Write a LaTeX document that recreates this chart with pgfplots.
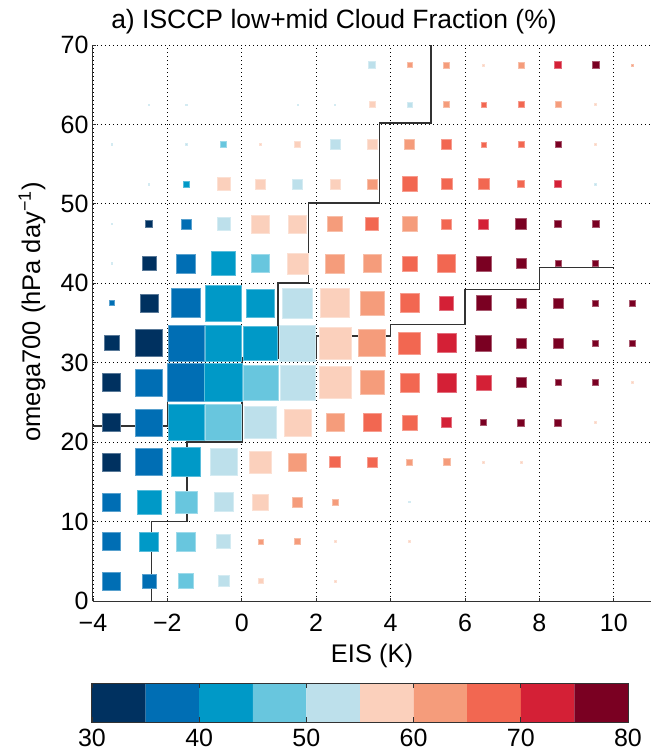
\documentclass[border=0pt]{standalone}
\usepackage{fontspec}
\setmainfont{Liberation Sans}
\usepackage{pgfplots}
\pgfplotsset{compat=1.18}
\definecolor{c1}{RGB}{0,49,96}
\definecolor{c2}{RGB}{0,110,180}
\definecolor{c3}{RGB}{0,153,199}
\definecolor{c4}{RGB}{104,198,222}
\definecolor{c5}{RGB}{189,224,235}
\definecolor{c6}{RGB}{251,208,188}
\definecolor{c7}{RGB}{245,156,123}
\definecolor{c8}{RGB}{242,103,81}
\definecolor{c9}{RGB}{212,32,54}
\definecolor{c10}{RGB}{122,0,34}
\definecolor{axgray}{RGB}{50,50,50}
\newcommand\fs{\fontsize{25}{29}\selectfont}
\begin{document}
\begin{tikzpicture}[x=1pt,y=1pt]
\useasboundingbox (-93,-154) rectangle (559,601);
\begin{axis}[
  at={(0,0)}, anchor=south west,
  scale only axis, width=558pt, height=556pt,
  xmin=-4, xmax=11, ymin=0, ymax=70,
  axis x line*=bottom, axis y line*=left,
  axis line style={axgray, line width=1pt, -},
  xtick={-4,-2,...,10}, xticklabels={−4,−2,0,2,4,6,8,10},
  ytick={0,10,...,70},
  tick align=inside, major tick length=3pt,
  tick style={axgray, line width=0.8pt},
  grid=major,
  major grid style={black, dash pattern=on 1.4pt off 2.6pt, line width=0.8pt},
  ticklabel style={font=\fs},
  xticklabel style={yshift=-10pt},
  yticklabel style={xshift=-1pt},
  /pgf/number format/assume math mode=true,
  colormap={rdbu}{rgb255=(0,49,96) rgb255=(0,110,180) rgb255=(0,153,199) rgb255=(104,198,222) rgb255=(189,224,235) rgb255=(251,208,188) rgb255=(245,156,123) rgb255=(242,103,81) rgb255=(212,32,54) rgb255=(122,0,34)},
  colormap access=piecewise constant,
  point meta min=0, point meta max=10,
  clip=false,
]
\addplot[scatter, only marks, mark=square*, mark options={line width=0.4pt},
  scatter/use mapped color={draw=mapped color!65!white, fill=mapped color},
  point meta={\thisrow{c}-0.5},
  visualization depends on={0.5*\thisrow{s} \as \ms},
  scatter/@pre marker code/.append style={/tikz/mark size=\ms}]
  table {
x y s c
3.5 67.5 7 5
4.5 67.5 5 7
5.5 67.5 6 7
6.5 67.5 2 6
7.5 67.5 6 7
8.5 67.5 7 9
9.5 67.5 7 10
10.5 67.5 2 7
-2.5 62.5 1.5 5
-1.5 62.5 1.5 5
1.5 62.5 1.5 5
2.5 62.5 1.5 5
3.5 62.5 6 6
4.5 62.5 5 5
5.5 62.5 6 7
6.5 62.5 5 8
7.5 62.5 6 8
8.5 62.5 6 7
9.5 62.5 2 6
-3.5 57.5 1.5 5
-1.5 57.5 1.5 5
-0.5 57.5 6 4
0.5 57.5 1.5 6
1.5 57.5 6 6
2.5 57.5 10 5
3.5 57.5 10 6
4.5 57.5 10 7
5.5 57.5 10 8
6.5 57.5 5 8
7.5 57.5 6 8
8.5 57.5 6 10
9.5 57.5 2 6
-2.5 52.5 1.5 5
-1.5 52.5 6 3
-0.5 52.5 13 6
0.5 52.5 10 6
1.5 52.5 10 5
2.5 52.5 10 6
3.5 52.5 10 7
4.5 52.5 15 8
5.5 52.5 11 8
6.5 52.5 11 8
7.5 52.5 7 8
8.5 52.5 7 9
9.5 52.5 1.5 5
-3.5 47.5 1.5 5
-2.5 47.5 7 1
-1.5 47.5 10 2
-0.5 47.5 13 5
0.5 47.5 18 6
1.5 47.5 18 6
2.5 47.5 15 7
3.5 47.5 13 8
4.5 47.5 15 7
5.5 47.5 10 8
6.5 47.5 10 9
7.5 47.5 11 10
8.5 47.5 7 10
9.5 47.5 7 10
-3.5 42.5 1.5 5
-2.5 42.5 14 1
-1.5 42.5 19 2
-0.5 42.5 24 3
0.5 42.5 18 4
1.5 42.5 21 6
2.5 42.5 19 7
3.5 42.5 18 7
4.5 42.5 15 8
5.5 42.5 18 8
6.5 42.5 15 10
7.5 42.5 10 10
8.5 42.5 6 10
9.5 42.5 6 10
-3.5 37.5 5 2
-2.5 37.5 18 1
-1.5 37.5 29 2
-0.5 37.5 36 3
0.5 37.5 28 3
1.5 37.5 30 5
2.5 37.5 29 6
3.5 37.5 24 7
4.5 37.5 19 8
5.5 37.5 14 9
6.5 37.5 15 10
7.5 37.5 10 10
8.5 37.5 10 10
9.5 37.5 6 10
10.5 37.5 6 10
-3.5 32.5 15 1
-2.5 32.5 27 1
-1.5 32.5 36 2
-0.5 32.5 36 3
0.5 32.5 34 3
1.5 32.5 36 5
2.5 32.5 32 6
3.5 32.5 27 7
4.5 32.5 22 8
5.5 32.5 19 9
6.5 32.5 16 10
7.5 32.5 10 10
8.5 32.5 10 10
9.5 32.5 6 10
10.5 32.5 6 10
-3.5 27.5 18 1
-2.5 27.5 27 2
-1.5 27.5 38 2
-0.5 27.5 38 3
0.5 27.5 35 4
1.5 27.5 35 5
2.5 27.5 32 6
3.5 27.5 24 7
4.5 27.5 19 8
5.5 27.5 19 9
6.5 27.5 15 9
7.5 27.5 10 10
8.5 27.5 6 10
9.5 27.5 6 10
10.5 27.5 2 6
-3.5 22.5 18 1
-2.5 22.5 27 2
-1.5 22.5 36 3
-0.5 22.5 36 4
0.5 22.5 32 5
1.5 22.5 27 6
2.5 22.5 18 7
3.5 22.5 18 8
4.5 22.5 15 8
5.5 22.5 10 9
6.5 22.5 6 10
7.5 22.5 7 10
8.5 22.5 7 10
9.5 22.5 2 6
-3.5 17.5 18 1
-2.5 17.5 27 2
-1.5 17.5 29 3
-0.5 17.5 27 5
0.5 17.5 22 6
1.5 17.5 18 7
2.5 17.5 11 8
3.5 17.5 10 8
4.5 17.5 6 7
5.5 17.5 7 7
6.5 17.5 2 6
7.5 17.5 2 6
-3.5 12.5 18 2
-2.5 12.5 24 3
-1.5 12.5 22 4
-0.5 12.5 19 5
0.5 12.5 16 6
1.5 12.5 10 7
2.5 12.5 6 7
4.5 12.5 1.5 5
-3.5 7.5 18 2
-2.5 7.5 19 3
-1.5 7.5 19 4
-0.5 7.5 14 5
0.5 7.5 5 7
1.5 7.5 6 7
2.5 7.5 2 6
4.5 7.5 2 6
-3.5 2.5 18 2
-2.5 2.5 14 2
-1.5 2.5 15 4
-0.5 2.5 11 5
0.5 2.5 5 6
2.5 2.5 2 6
};
\addplot[axgray, line width=1.6pt, mark=none] coordinates {
(-2.43,0) (-2.43,10) (-1.47,10) (-1.47,20) (0,20) (0,30.6) (0.97,30.6) (0.97,40)
(1.79,40) (1.79,50.1) (3.70,50.1) (3.70,60.2) (5.09,60.2) (5.09,70)};
\addplot[axgray, line width=1.6pt, mark=none] coordinates {
(-4,22) (-2,22) (-2,27.6) (0,27.6) (0,30.6) (2,30.6) (2,33.4) (4,33.4) (4,34.8)
(6,34.8) (6,39.2) (8,39.2) (8,42.0) (10,42.0)};
\end{axis}
\begin{axis}[
  at={(-1pt,-121pt)}, anchor=south west,
  scale only axis, width=536pt, height=39pt,
  xmin=30, xmax=80, ymin=0, ymax=1,
  ytick=\empty, xtick={30,40,...,80},
  xtick pos=both, tick align=inside, major tick length=5pt,
  tick style={axgray, line width=0.8pt},
  axis line style={axgray, line width=1pt},
  ticklabel style={font=\fs},
  xticklabel style={yshift=-4pt},
  /pgf/number format/assume math mode=true,
  axis on top,
]
\addplot[fill=c1, draw=none, mark=none] coordinates {(30,0) (35,0) (35,1) (30,1) (30,0)};
\addplot[fill=c2, draw=none, mark=none] coordinates {(35,0) (40,0) (40,1) (35,1) (35,0)};
\addplot[fill=c3, draw=none, mark=none] coordinates {(40,0) (45,0) (45,1) (40,1) (40,0)};
\addplot[fill=c4, draw=none, mark=none] coordinates {(45,0) (50,0) (50,1) (45,1) (45,0)};
\addplot[fill=c5, draw=none, mark=none] coordinates {(50,0) (55,0) (55,1) (50,1) (50,0)};
\addplot[fill=c6, draw=none, mark=none] coordinates {(55,0) (60,0) (60,1) (55,1) (55,0)};
\addplot[fill=c7, draw=none, mark=none] coordinates {(60,0) (65,0) (65,1) (60,1) (60,0)};
\addplot[fill=c8, draw=none, mark=none] coordinates {(65,0) (70,0) (70,1) (65,1) (65,0)};
\addplot[fill=c9, draw=none, mark=none] coordinates {(70,0) (75,0) (75,1) (70,1) (70,0)};
\addplot[fill=c10, draw=none, mark=none] coordinates {(75,0) (80,0) (80,1) (75,1) (75,0)};
\end{axis}
\node[font=\fontsize{26.5}{30}\selectfont] at (241,579) {a) ISCCP low+mid Cloud Fraction (\%)};
\node[font=\fontsize{25.5}{30}\selectfont, rotate=90] at (-61,289) {omega700 (hPa day\textsuperscript{−1})};
\node[font=\fontsize{25.5}{30}\selectfont] at (279,-55) {EIS (K)};
\end{tikzpicture}
\end{document}
